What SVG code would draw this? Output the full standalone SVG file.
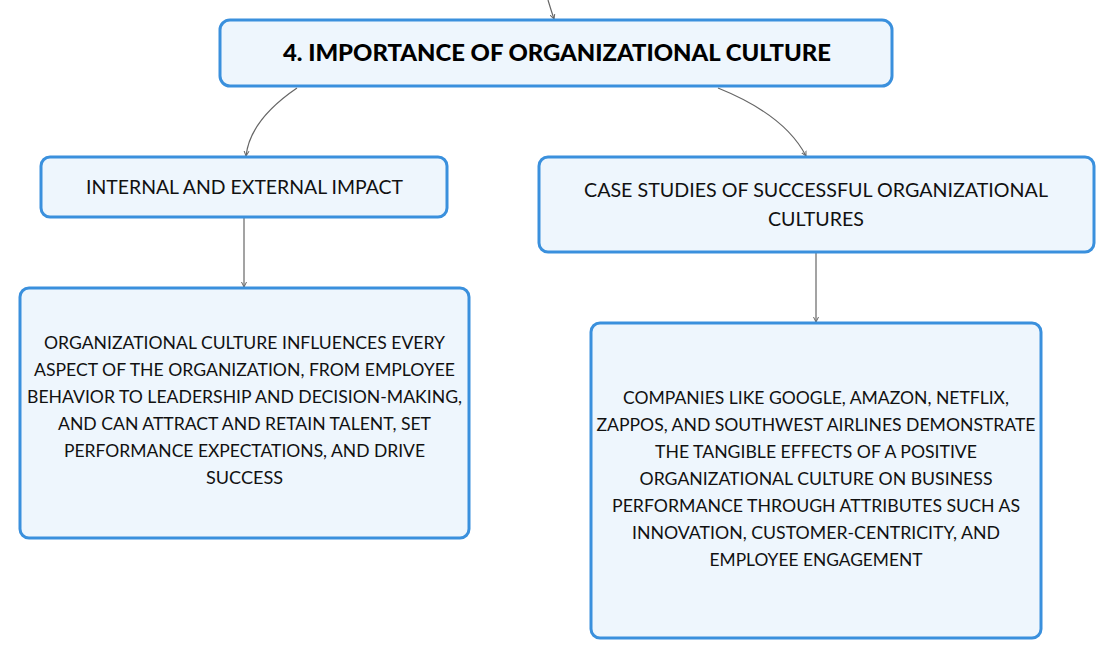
<svg xmlns="http://www.w3.org/2000/svg" width="1114" height="659" viewBox="0 0 1114 659">
<style>
.box{fill:#eef6fd;stroke:#3a90dd;stroke-width:3}
.t{font-family:Lato,"Open Sans","Liberation Sans",sans-serif;font-size:17.6px;fill:#111;text-anchor:middle}
.h{font-family:Lato,"Open Sans","Liberation Sans",sans-serif;font-size:19.5px;fill:#111;text-anchor:middle}
.title{font-family:Lato,"Open Sans","Liberation Sans",sans-serif;font-size:22px;font-weight:900;fill:#000;text-anchor:middle}
.c{fill:none;stroke:#666;stroke-width:1.2}
</style>
<defs>
<marker id="ah" viewBox="0 0 6 6" refX="5" refY="3" markerWidth="5" markerHeight="5" orient="auto">
<path d="M0,0.5 L5,3 L0,5.5" fill="none" stroke="#666" stroke-width="1"/>
</marker>
</defs>
<rect width="1114" height="659" fill="#fff"/>
<g id="connectors">
<path class="c" d="M548,0 Q551,10 554,19" marker-end="url(#ah)"/>
<path class="c" d="M297,88 Q250,120 246,156" marker-end="url(#ah)"/>
<path class="c" d="M718,88 Q785,115 806,156" marker-end="url(#ah)"/>
<path class="c" d="M244,218 L244,287" marker-end="url(#ah)"/>
<path class="c" d="M816,253 L816,322" marker-end="url(#ah)"/>
</g>
<g id="title">
<rect class="box" x="220" y="20" width="672" height="66" rx="10"/>
<text class="title" x="557" y="61" textLength="548" lengthAdjust="spacingAndGlyphs">4. IMPORTANCE OF ORGANIZATIONAL CULTURE</text>
</g>
<g id="internal">
<rect class="box" x="41" y="157" width="406" height="60" rx="9"/>
<text class="h" x="244.5" y="194" textLength="317" lengthAdjust="spacingAndGlyphs">INTERNAL AND EXTERNAL IMPACT</text>
</g>
<g id="case">
<rect class="box" x="539" y="157" width="555" height="95" rx="9"/>
<text class="h" x="816" y="197" textLength="464" lengthAdjust="spacingAndGlyphs">CASE STUDIES OF SUCCESSFUL ORGANIZATIONAL</text>
<text class="h" x="816" y="226" textLength="96" lengthAdjust="spacingAndGlyphs">CULTURES</text>
</g>
<g id="internal-detail">
<rect class="box" x="20" y="288" width="449" height="250" rx="9"/>
<text class="t" x="244.5" y="349" textLength="401" lengthAdjust="spacingAndGlyphs">ORGANIZATIONAL CULTURE INFLUENCES EVERY</text>
<text class="t" x="244.5" y="376" textLength="421" lengthAdjust="spacingAndGlyphs">ASPECT OF THE ORGANIZATION, FROM EMPLOYEE</text>
<text class="t" x="244.5" y="403" textLength="435" lengthAdjust="spacingAndGlyphs">BEHAVIOR TO LEADERSHIP AND DECISION-MAKING,</text>
<text class="t" x="244.5" y="430" textLength="373" lengthAdjust="spacingAndGlyphs">AND CAN ATTRACT AND RETAIN TALENT, SET</text>
<text class="t" x="244.5" y="457" textLength="361" lengthAdjust="spacingAndGlyphs">PERFORMANCE EXPECTATIONS, AND DRIVE</text>
<text class="t" x="244.5" y="484" textLength="77" lengthAdjust="spacingAndGlyphs">SUCCESS</text>
</g>
<g id="case-detail">
<rect class="box" x="591" y="323" width="450" height="315" rx="9"/>
<text class="t" x="816" y="404" textLength="386" lengthAdjust="spacingAndGlyphs">COMPANIES LIKE GOOGLE, AMAZON, NETFLIX,</text>
<text class="t" x="816" y="431" textLength="439" lengthAdjust="spacingAndGlyphs">ZAPPOS, AND SOUTHWEST AIRLINES DEMONSTRATE</text>
<text class="t" x="816" y="458" textLength="322" lengthAdjust="spacingAndGlyphs">THE TANGIBLE EFFECTS OF A POSITIVE</text>
<text class="t" x="816" y="485" textLength="353" lengthAdjust="spacingAndGlyphs">ORGANIZATIONAL CULTURE ON BUSINESS</text>
<text class="t" x="816" y="512" textLength="408" lengthAdjust="spacingAndGlyphs">PERFORMANCE THROUGH ATTRIBUTES SUCH AS</text>
<text class="t" x="816" y="539" textLength="368" lengthAdjust="spacingAndGlyphs">INNOVATION, CUSTOMER-CENTRICITY, AND</text>
<text class="t" x="816" y="566" textLength="213" lengthAdjust="spacingAndGlyphs">EMPLOYEE ENGAGEMENT</text>
</g>
</svg>
